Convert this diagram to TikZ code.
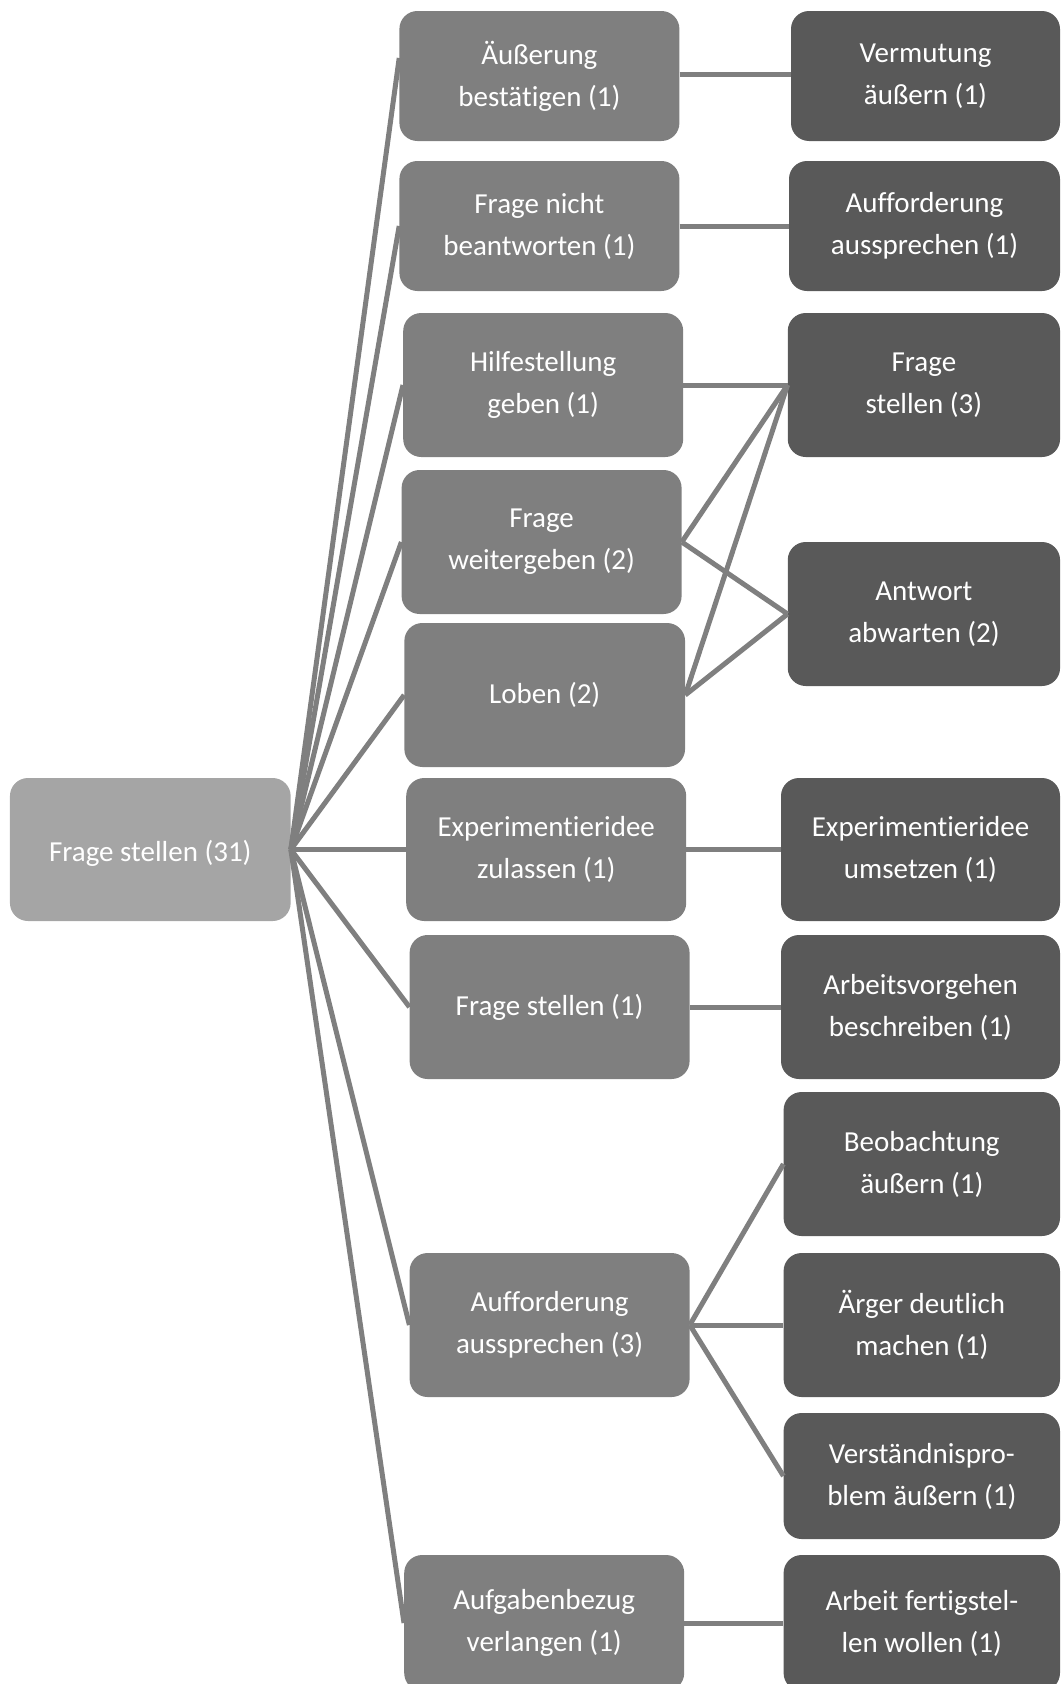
\documentclass[tikz,border=0pt]{standalone}
\usepackage{fontspec}
\setmainfont[Ligatures={NoCommon,NoContextual,NoRare}]{Carlito}
\definecolor{rootc}{HTML}{A5A5A5}
\definecolor{midc}{HTML}{7F7F7F}
\definecolor{leafc}{HTML}{595959}
\definecolor{linec}{HTML}{7F7F7F}
\begin{document}
\begin{tikzpicture}[x=1pt,y=-1pt,
  box/.style={rounded corners=18pt, inner sep=0pt, align=center, text=white,
    font=\fontsize{29}{42}\selectfont},
  sz/.style 2 args={minimum width=#1pt, minimum height=#2pt},
  rootbox/.style={box, fill=rootc},
  midbox/.style={box, fill=midc},
  leafbox/.style={box, fill=leafc},
  link/.style={draw=linec, line width=5pt}]
\useasboundingbox (0,0) rectangle (1062,1684);

% root
\node[rootbox, sz={280.7}{143}] (root) at (150.3,849.5) {\raisebox{-4pt}[\height][\depth]{Frage stellen (31)}};

% middle column
\node[midbox, sz={280}{130}] (m1) at (539.4,76) {Äußerung\\bestätigen (1)};
\node[midbox, sz={280}{130}] (m2) at (539.4,226) {Frage nicht\\beantworten (1)};
\node[midbox, sz={280}{144}] (m3) at (543.2,385) {Hilfestellung\\geben (1)};
\node[midbox, sz={280}{144}] (m4) at (541.6,542) {Frage\\weitergeben (2)};
\node[midbox, sz={280.7}{144}] (m5) at (544.7,695) {Loben (2)};
\node[midbox, sz={280}{143}] (m6) at (546.2,849.5) {Experimentieridee\\zulassen (1)};
\node[midbox, sz={280}{144}] (m7) at (549.6,1007) {Frage stellen (1)};
\node[midbox, sz={280}{144}] (m8) at (549.6,1325) {Aufforderung\\aussprechen (3)};
\node[midbox, sz={280}{136}] (m9) at (544.2,1623) {Aufgabenbezug\\verlangen (1)};

% right column
\node[leafbox, sz={269}{130}] (r1) at (925.5,76) {Vermutung\\äußern (1)};
\node[leafbox, sz={271}{130}] (r2) at (924.5,226) {Aufforderung\\aussprechen (1)};
\node[leafbox, sz={272.3}{144}] (r3) at (923.9,385) {Frage\\stellen (3)};
\node[leafbox, sz={272.3}{144}] (r4) at (923.9,614) {Antwort\\abwarten (2)};
\node[leafbox, sz={279}{143}] (r5) at (920.5,849.5) {Experimentieridee\\umsetzen (1)};
\node[leafbox, sz={279}{144}] (r6) at (920.5,1007) {Arbeitsvorgehen\\beschreiben (1)};
\node[leafbox, sz={276.4}{144}] (r7) at (921.8,1164) {Beobachtung\\äußern (1)};
\node[leafbox, sz={276.4}{144}] (r8) at (921.8,1325) {Ärger deutlich\\machen (1)};
\node[leafbox, sz={276.4}{126}] (r9) at (921.8,1476) {Verständnispro-\\blem äußern (1)};
\node[leafbox, sz={276.4}{136}] (r10) at (921.8,1623) {Arbeit fertigstel-\\len wollen (1)};

% connectors from root
\draw[link] (root.east) -- ([yshift=18pt]m1.west);
\draw[link] (root.east) -- (m2.west);
\draw[link] (root.east) -- (m3.west);
\draw[link] (root.east) -- (m4.west);
\draw[link] (root.east) -- (m5.west);
\draw[link] (root.east) -- (m6.west);
\draw[link] (root.east) -- (m7.west);
\draw[link] (root.east) -- (m8.west);
\draw[link] (root.east) -- (m9.west);

% connectors to right column
\draw[link] ([yshift=2pt]m1.east) -- ([yshift=2pt]r1.west);
\draw[link] (m2.east) -- (r2.west);
\draw[link] (m3.east) -- (r3.west);
\draw[link] (m4.east) -- (r3.west);
\draw[link] (m4.east) -- (r4.west);
\draw[link] (m5.east) -- (r3.west);
\draw[link] (m5.east) -- (r4.west);
\draw[link] (m6.east) -- (r5.west);
\draw[link] (m7.east) -- (r6.west);
\draw[link] (m8.east) -- (r7.west);
\draw[link] (m8.east) -- (r8.west);
\draw[link] (m8.east) -- (r9.west);
\draw[link] (m9.east) -- (r10.west);
\end{tikzpicture}
\end{document}
